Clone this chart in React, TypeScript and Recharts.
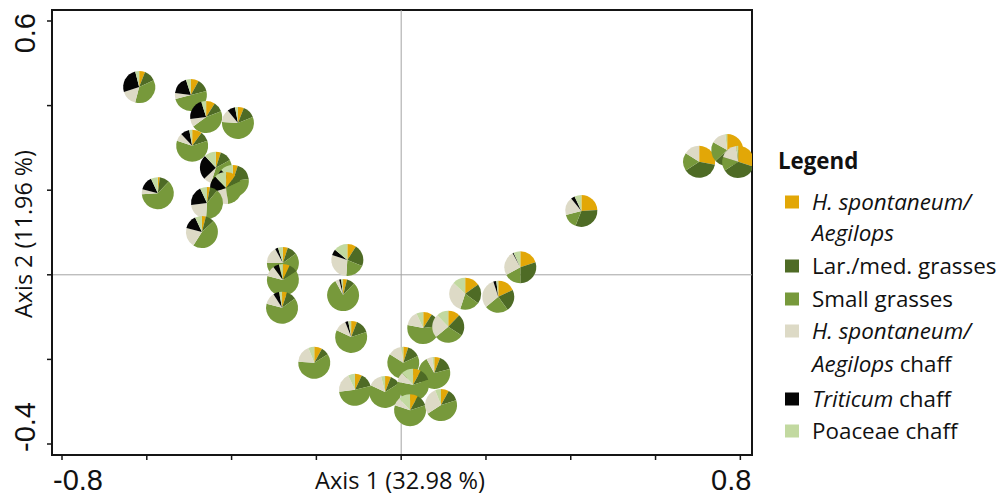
import React from 'react';
import { ScatterChart, Scatter, XAxis, YAxis, ReferenceLine, ReferenceArea, Sector, Legend, Label } from 'recharts';

// ---------- data ----------
const categories = [
  'H. spontaneum/Aegilops',
  'Lar./med. grasses',
  'Small grasses',
  'H. spontaneum/Aegilops chaff',
  'Triticum chaff',
  'Poaceae chaff',
];
const colors = ['#E2A707', '#4E6B25', '#77993B', '#DDDAC6', '#050505', '#C2D9A0'];

const axis1 = [
  -0.618, -0.496, -0.46, -0.385, -0.493, -0.574, -0.437, -0.397, -0.413, -0.458, -0.47,
  -0.279, -0.279, -0.281, -0.127, -0.137, -0.118, -0.205, -0.109, -0.038, 0.078, 0.005,
  0.028, 0.021, 0.094, 0.052, 0.111, 0.151, 0.229, 0.281, 0.425, 0.703, 0.769, 0.795,
];
const axis2 = [
  0.444, 0.425, 0.373, 0.359, 0.305, 0.193, 0.253, 0.222, 0.205, 0.17, 0.101,
  0.028, -0.012, -0.078, 0.035, -0.048, -0.147, -0.208, -0.272, -0.277, -0.232, -0.208,
  -0.26, -0.32, -0.308, -0.126, -0.123, -0.045, -0.052, 0.018, 0.151, 0.267, 0.295, 0.267,
];
const hSpontaneum = [6, 8, 9, 6, 10, 2, 5, 5, 10, 3, 4, 5, 7, 5, 9, 4, 6, 8, 7, 6, 6, 5, 8, 8, 8, 9, 12, 15, 18, 20, 24, 28, 25, 30];
const largeMedGrasses = [12, 13, 10, 13, 10, 10, 12, 18, 8, 8, 9, 10, 9, 10, 22, 8, 14, 8, 14, 10, 15, 13, 12, 12, 12, 14, 22, 20, 22, 30, 32, 38, 38, 36];
const smallGrasses = [36, 50, 46, 57, 60, 62, 38, 50, 30, 40, 46, 60, 63, 64, 20, 80, 62, 60, 52, 66, 71, 66, 58, 60, 46, 55, 30, 20, 24, 17, 15, 18, 20, 14];
const hSpontaneumChaff = [16, 6, 8, 13, 8, 5, 8, 8, 22, 22, 20, 17, 11, 12, 29, 4, 12, 18, 20, 14, 6, 14, 10, 8, 28, 15, 24, 32, 31, 25, 18, 16, 15, 18];
const triticumChaff = [26, 18, 22, 8, 9, 14, 25, 6, 18, 20, 14, 3, 6, 6, 6, 2, 3, 0, 0, 0, 0, 0, 0, 0, 0, 0, 0, 0, 3, 1, 4, 0, 0, 0];
const poaceaeChaff = [4, 5, 5, 3, 3, 7, 12, 13, 12, 7, 7, 5, 4, 3, 14, 2, 3, 6, 7, 4, 2, 2, 12, 12, 6, 7, 12, 13, 2, 7, 7, 0, 2, 2];

const xTicks = [-0.8, -0.6, -0.4, -0.2, 0, 0.2, 0.4, 0.6, 0.8];
const xTickLabels = ['-0.8', '', '', '', '', '', '', '', '0.8'];
const yTicks = [-0.4, -0.2, 0, 0.2, 0.4, 0.6];
const yTickLabels = ['-0.4', '', '', '', '', '0.6'];
const xDomain: [number, number] = [-0.8236, 0.8275];
const yDomain: [number, number] = [-0.426, 0.626];

const xTitle = 'Axis 1 (32.98 %)';
const yTitle = 'Axis 2 (11.96 %)';

const data = axis1.map((x, i) => ({
  x,
  y: axis2[i],
  parts: [hSpontaneum[i], largeMedGrasses[i], smallGrasses[i], hSpontaneumChaff[i], triticumChaff[i], poaceaeChaff[i]],
}));

// ---------- styling ----------
const SANS = '"Open Sans", "DejaVu Sans", sans-serif';
const ARIAL = '"Liberation Sans", Arial, sans-serif';
const PIE_R = 16;
const INK = '#111111';

function PieMarker(props: any) {
  const { cx, cy, payload } = props;
  if (cx == null || cy == null) return null;
  const parts: number[] = payload.parts;
  const total = parts.reduce((a, b) => a + b, 0);
  let start = 90;
  const sectors: React.ReactNode[] = [];
  parts.forEach((v, i) => {
    if (v <= 0) return;
    const end = start - (v / total) * 360;
    sectors.push(
      <Sector key={i} cx={cx} cy={cy} innerRadius={0} outerRadius={PIE_R} startAngle={start} endAngle={end} fill={colors[i]} stroke="none" />
    );
    start = end;
  });
  return <g>{sectors}</g>;
}

function XTick(props: any) {
  const { x, y, payload } = props;
  const label = xTickLabels[xTicks.indexOf(payload.value)] ?? '';
  if (!label) return null;
  const neg = payload.value < 0;
  return (
    <text x={neg ? x - 9 : x + 11} y={y + 28} textAnchor={neg ? 'start' : 'end'} fontFamily={ARIAL} fontSize={29} fill={INK}>
      {label}
    </text>
  );
}

function YTick(props: any) {
  const { x, y, payload } = props;
  const label = yTickLabels[yTicks.indexOf(payload.value)] ?? '';
  if (!label) return null;
  const neg = payload.value < 0;
  const tx = x - 10;
  const ty = neg ? y + 8 : y - 8;
  return (
    <text x={tx} y={ty} transform={`rotate(-90, ${tx}, ${ty})`} textAnchor={neg ? 'start' : 'end'} fontFamily={ARIAL} fontSize={29} fill={INK}>
      {label}
    </text>
  );
}

function XTitle(props: any) {
  const vb = props.viewBox;
  return (
    <text x={vb.x + vb.width / 2 - 2} y={vb.y + 34} textAnchor="middle" fontFamily={SANS} fontSize={23.6} fill={INK}>
      {xTitle}
    </text>
  );
}

function YTitle(props: any) {
  const vb = props.viewBox;
  const cx = vb.x + 32;
  const cy = vb.y + vb.height / 2 + 1.5;
  return (
    <text x={cx} y={cy} transform={`rotate(-90, ${cx}, ${cy})`} textAnchor="middle" fontFamily={SANS} fontSize={23.3} fill={INK}>
      {yTitle}
    </text>
  );
}

const legendRows: { pieces: [string, boolean][]; color: number }[] = [
  { pieces: [['H. spontaneum/', true]], color: 0 },
  { pieces: [['Aegilops', true]], color: -1 },
  { pieces: [['Lar./med. grasses', false]], color: 1 },
  { pieces: [['Small grasses', false]], color: 2 },
  { pieces: [['H. spontaneum/', true]], color: 3 },
  { pieces: [['Aegilops', true], [' chaff', false]], color: -1 },
  { pieces: [['Triticum', true], [' chaff', false]], color: 4 },
  { pieces: [['Poaceae chaff', false]], color: 5 },
];
const legendRowCenters = [62, 93, 126, 159, 191, 224, 259, 291];

function LegendContent() {
  return (
    <svg width={227} height={310} style={{ overflow: 'visible', display: 'block' }}>
      <text x={3} y={29} fontFamily={SANS} fontSize={22.3} fontWeight="bold" fill={INK}>
        Legend
      </text>
      {legendRows.map((row, i) => {
        const c = legendRowCenters[i];
        return (
          <g key={i}>
            {row.color >= 0 && <rect x={10} y={c - 6.5} width={14} height={13} fill={colors[row.color]} />}
            <text x={37} y={c + 7.8} fontFamily={SANS} fontSize={22.4} fill={INK}>
              {row.pieces.map(([t, it], j) => (
                <tspan key={j} fontStyle={it ? 'italic' : 'normal'}>
                  {t}
                </tspan>
              ))}
            </text>
          </g>
        );
      })}
    </svg>
  );
}

export default function App() {
  return (
    <div style={{ position: 'absolute', left: 0, top: 0, background: '#fff' }}>
      <ScatterChart width={1002} height={497} margin={{ top: 10, right: 250, bottom: 0, left: 0 }}>
        <ReferenceArea
          x1={xDomain[0]}
          x2={xDomain[1]}
          y1={yDomain[0]}
          y2={yDomain[1]}
          fill="none"
          fillOpacity={0}
          stroke="#151515"
          strokeWidth={2}
          ifOverflow="visible"
        />
        <ReferenceLine x={0} stroke="#a3a3a3" strokeWidth={1} />
        <ReferenceLine y={0} stroke="#a3a3a3" strokeWidth={1} />
        <XAxis
          type="number"
          dataKey="x"
          domain={xDomain}
          ticks={xTicks}
          allowDataOverflow
          height={42}
          tickSize={5}
          tickLine={{ stroke: '#151515', strokeWidth: 1.5 }}
          axisLine={{ stroke: '#151515', strokeWidth: 2 }}
          tick={<XTick />}
          interval={0}
        >
          <Label content={<XTitle />} />
        </XAxis>
        <YAxis
          type="number"
          dataKey="y"
          domain={yDomain}
          ticks={yTicks}
          allowDataOverflow
          width={52}
          tickSize={5}
          tickLine={{ stroke: '#151515', strokeWidth: 1.5 }}
          axisLine={{ stroke: '#151515', strokeWidth: 2 }}
          tick={<YTick />}
          interval={0}
        >
          <Label content={<YTitle />} />
        </YAxis>
        <Legend
          layout="vertical"
          align="center"
          verticalAlign="middle"
          content={<LegendContent />}
          wrapperStyle={{ left: 775, top: 140, width: 227, height: 310 }}
        />
        <Scatter data={data} shape={PieMarker} isAnimationActive={false} />
      </ScatterChart>
    </div>
  );
}
